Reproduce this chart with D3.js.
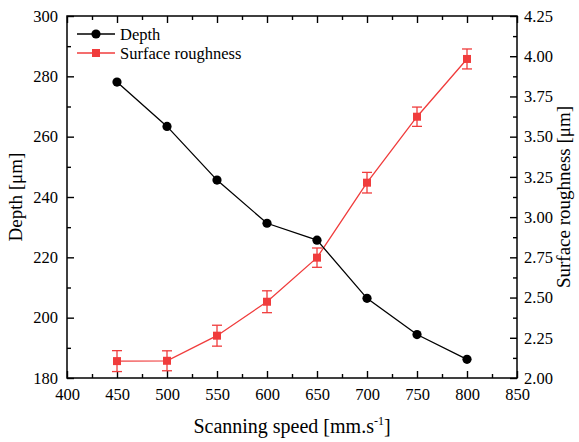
<!DOCTYPE html>
<meta charset="utf-8">
<script src="https://d3js.org/d3.v7.min.js"></script>
<style>
    body { margin: 0; background: #fff; }
    text { font-family: "Liberation Serif", "Times New Roman", serif; }
</style>
<div id="chart"></div>
<script>
    // data
    var speeds = [450, 500, 550, 600, 650, 700, 750, 800];
    var depth = [278.1, 263.4, 245.6, 231.3, 225.7, 206.4, 194.4, 186.2];
    var roughness = [2.105, 2.107, 2.263, 2.474, 2.748, 3.214, 3.624, 3.983];
    var roughnessErr = [0.065, 0.062, 0.065, 0.068, 0.06, 0.064, 0.06, 0.062];
    var xTicks = [400, 450, 500, 550, 600, 650, 700, 750, 800, 850];
    var yLeftTicks = [180, 200, 220, 240, 260, 280, 300];
    var yRightTicks = [2.00, 2.25, 2.50, 2.75, 3.00, 3.25, 3.50, 3.75, 4.00, 4.25];

    var red = "#f03c3c";
    var W = 579, H = 442;
    var margin = { top: 16, right: 62, bottom: 64, left: 67 },
        width = W - margin.left - margin.right,
        height = H - margin.top - margin.bottom;

    var svg = d3.select("#chart").append("svg")
        .attr("width", W).attr("height", H);
    var g = svg.append("g")
        .attr("transform", "translate(" + margin.left + "," + margin.top + ")");

    var x = d3.scaleLinear().domain([400, 850]).range([0, width]);
    var yL = d3.scaleLinear().domain([180, 300]).range([height, 0]);
    var yR = d3.scaleLinear().domain([2.0, 4.25]).range([height, 0]);

    // minor ticks at the midpoints
    function mids(t) {
        var m = [];
        for (var i = 0; i < t.length - 1; i++) m.push((t[i] + t[i + 1]) / 2);
        return m;
    }

    function styleAxis(sel) {
        sel.select(".domain").remove();
        sel.selectAll("line").attr("stroke", "#000").attr("stroke-width", 1.4);
        sel.selectAll("text").attr("font-size", "16.5px").attr("fill", "#000");
    }

    // bottom axis
    g.append("g").attr("transform", "translate(0," + height + ")")
        .call(d3.axisBottom(x).tickValues(xTicks).tickSize(-7).tickPadding(10).tickFormat(d3.format("d")))
        .call(styleAxis);
    g.append("g").attr("transform", "translate(0," + height + ")")
        .call(d3.axisBottom(x).tickValues(mids(xTicks)).tickSize(-4).tickFormat(""))
        .call(styleAxis);
    // top axis
    g.append("g").call(d3.axisTop(x).tickValues(xTicks).tickSize(-7).tickFormat("")).call(styleAxis);
    g.append("g").call(d3.axisTop(x).tickValues(mids(xTicks)).tickSize(-4).tickFormat("")).call(styleAxis);

    // left axis
    g.append("g")
        .call(d3.axisLeft(yL).tickValues(yLeftTicks).tickSize(-7).tickPadding(9).tickFormat(d3.format("d")))
        .call(styleAxis);
    g.append("g").call(d3.axisLeft(yL).tickValues(mids(yLeftTicks)).tickSize(-4).tickFormat("")).call(styleAxis);

    // right axis
    g.append("g").attr("transform", "translate(" + width + ",0)")
        .call(d3.axisRight(yR).tickValues(yRightTicks).tickSize(-7).tickPadding(7).tickFormat(d3.format(".2f")))
        .call(styleAxis);
    g.append("g").attr("transform", "translate(" + width + ",0)")
        .call(d3.axisRight(yR).tickValues(mids(yRightTicks)).tickSize(-4).tickFormat(""))
        .call(styleAxis);

    // frame
    g.append("rect").attr("width", width).attr("height", height)
        .attr("fill", "none").attr("stroke", "#000").attr("stroke-width", 1.5);

    // roughness series with error bars
    var rData = speeds.map(function (s, i) { return { x: s, y: roughness[i], e: roughnessErr[i] }; });
    g.append("path").datum(rData)
        .attr("fill", "none").attr("stroke", red).attr("stroke-width", 1.3)
        .attr("d", d3.line().x(function (d) { return x(d.x); }).y(function (d) { return yR(d.y); }));
    var eb = g.selectAll(".err").data(rData).enter().append("g")
        .attr("stroke", red).attr("stroke-width", 1.3);
    eb.append("line")
        .attr("x1", function (d) { return x(d.x); }).attr("x2", function (d) { return x(d.x); })
        .attr("y1", function (d) { return yR(d.y - d.e); }).attr("y2", function (d) { return yR(d.y + d.e); });
    [-1, 1].forEach(function (s) {
        eb.append("line")
            .attr("x1", function (d) { return x(d.x) - 5; }).attr("x2", function (d) { return x(d.x) + 5; })
            .attr("y1", function (d) { return yR(d.y + s * d.e); }).attr("y2", function (d) { return yR(d.y + s * d.e); });
    });
    g.selectAll(".sq").data(rData).enter().append("rect")
        .attr("x", function (d) { return x(d.x) - 4; }).attr("y", function (d) { return yR(d.y) - 4; })
        .attr("width", 8).attr("height", 8).attr("fill", red);

    // depth series
    var dData = speeds.map(function (s, i) { return { x: s, y: depth[i] }; });
    g.append("path").datum(dData)
        .attr("fill", "none").attr("stroke", "#000").attr("stroke-width", 1.3)
        .attr("d", d3.line().x(function (d) { return x(d.x); }).y(function (d) { return yL(d.y); }));
    g.selectAll(".dot").data(dData).enter().append("circle")
        .attr("cx", function (d) { return x(d.x); }).attr("cy", function (d) { return yL(d.y); })
        .attr("r", 4.6).attr("fill", "#000");

    // legend
    var leg = svg.append("g").attr("transform", "translate(77,0)");
    leg.append("line").attr("x1", 0).attr("x2", 38).attr("y1", 34).attr("y2", 34).attr("stroke", "#000").attr("stroke-width", 1.3);
    leg.append("circle").attr("cx", 19).attr("cy", 34).attr("r", 4.6).attr("fill", "#000");
    leg.append("text").attr("x", 43).attr("y", 39.5).attr("font-size", "16.5px").text("Depth");
    leg.append("line").attr("x1", 0).attr("x2", 38).attr("y1", 53).attr("y2", 53).attr("stroke", red).attr("stroke-width", 1.3);
    leg.append("rect").attr("x", 15).attr("y", 49).attr("width", 8).attr("height", 8).attr("fill", red);
    leg.append("text").attr("x", 43).attr("y", 58.5).attr("font-size", "16.5px").text("Surface roughness");

    // axis titles
    var xt = svg.append("text").attr("x", margin.left + width / 2).attr("y", 433)
        .attr("text-anchor", "middle").attr("font-size", "20px");
    xt.append("tspan").text("Scanning speed [mm.s");
    xt.append("tspan").attr("font-size", "12px").attr("dy", -8).text("-1");
    xt.append("tspan").attr("dy", 8).text("]");

    svg.append("text")
        .attr("transform", "translate(22," + (margin.top + height / 2) + ") rotate(-90)")
        .attr("text-anchor", "middle").attr("font-size", "19px").text("Depth [μm]");
    svg.append("text")
        .attr("transform", "translate(570," + (margin.top + height / 2) + ") rotate(-90)")
        .attr("text-anchor", "middle").attr("font-size", "19px").text("Surface roughness [μm]");
</script>
